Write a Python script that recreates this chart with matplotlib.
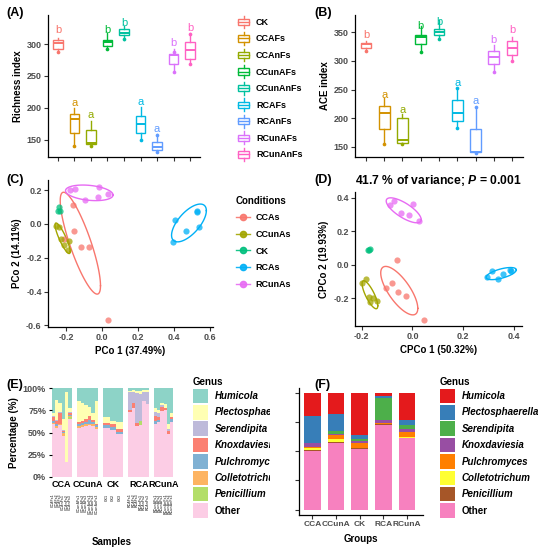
import matplotlib
matplotlib.use('Agg')
import matplotlib.pyplot as plt
import numpy as np
from matplotlib.patches import Patch, Rectangle
from matplotlib.lines import Line2D
from matplotlib.legend_handler import HandlerBase
from matplotlib.transforms import Bbox

plt.rcParams['font.family'] = ['Liberation Sans', 'DejaVu Sans']
plt.rcParams['font.weight'] = 'bold'
plt.rcParams['mathtext.fontset'] = 'custom'
plt.rcParams['mathtext.it'] = 'Liberation Sans:italic:bold'
plt.rcParams['mathtext.rm'] = 'Liberation Sans:bold'

# ---------------- data ----------------
alpha_groups = ['CK', 'CCAFs', 'CCAnFs', 'CCunAFs', 'CCunAnFs', 'RCAFs', 'RCAnFs', 'RCunAFs', 'RCunAnFs']
alpha_colors = ['#F8766D', '#D39200', '#93AA00', '#00BA38', '#00C19F', '#00B9E3', '#619CFF', '#DB72FB', '#FF61C3']

rich_lo = [290, 140, 140, 292, 307, 150, 131, 256, 269]
rich_q1 = [293, 160, 143, 297, 314, 161, 133, 269, 277]
rich_med = [302, 183, 145, 303, 318, 175, 138, 283, 291]
rich_q3 = [306, 191, 165, 307, 323, 187, 146, 285, 303]
rich_hi = [310, 199, 180, 317, 328, 201, 159, 293, 317]
rich_pts = [[287], [140], [140], [292], [308], [150], [131, 158], [256, 288], [268, 316]]
rich_letters = ['b', 'a', 'a', 'b', 'b', 'a', 'a', 'b', 'b']
rich_letter_y = [322, 207, 188, 322, 333, 209, 167, 301, 325]

ace_lo = [318, 155, 155, 316, 338, 183, 140, 281, 300]
ace_q1 = [322, 181, 157, 330, 345, 195, 141, 294, 310]
ace_med = [329, 210, 162, 342, 351, 210, 141, 307, 322]
ace_q3 = [332, 221, 201, 345, 356, 232, 182, 318, 334]
ace_hi = [335, 236, 207, 360, 371, 252, 220, 328, 342]
ace_pts = [[318], [155], [155], [316], [338], [183, 252], [140, 220], [281], [300]]
ace_letters = ['b', 'a', 'a', 'b', 'b', 'a', 'a', 'b', 'b']
ace_letter_y = [345, 241, 215, 360, 368, 261, 230, 336, 354]

cond_groups = ['CCAs', 'CCunAs', 'CK', 'RCAs', 'RCunAs']
cond_colors = ['#F8766D', '#A3A500', '#00BF7D', '#00B0F6', '#E76BF3']

pco1 = [[-0.163, -0.154, -0.117, -0.074, 0.030, -0.212],
        [-0.256, -0.237, -0.228, -0.209, -0.185, -0.191],
        [-0.237, -0.244, -0.231],
        [0.407, 0.467, 0.526, 0.526, 0.535, 0.393],
        [-0.176, -0.148, -0.093, -0.015, -0.024, 0.031]]
pco2 = [[0.111, -0.044, -0.139, -0.135, -0.568, -0.092],
        [-0.014, -0.018, -0.088, -0.124, -0.100, -0.153],
        [0.099, 0.075, 0.079],
        [0.025, -0.040, 0.071, 0.079, -0.018, -0.104],
        [0.200, 0.208, 0.144, 0.218, 0.158, 0.178]]

cpco1 = [[-0.061, -0.079, -0.104, -0.059, -0.026, 0.044],
         [-0.200, -0.183, -0.170, -0.156, -0.141, -0.167],
         [-0.176, -0.167, -0.172],
         [0.295, 0.315, 0.337, 0.358, 0.384, 0.390],
         [-0.090, -0.072, -0.044, -0.013, 0.002, 0.026]]
cpco2 = [[0.032, -0.111, -0.137, -0.160, -0.184, -0.329],
         [-0.111, -0.087, -0.194, -0.200, -0.214, -0.220],
         [0.087, 0.097, 0.091],
         [-0.075, -0.036, -0.087, -0.055, -0.028, -0.038],
         [0.360, 0.384, 0.311, 0.295, 0.364, 0.261]]

genera = ['Humicola', 'Plectosphaerella', 'Serendipita', 'Knoxdaviesia',
          'Pulchromyces', 'Colletotrichum', 'Penicillium', 'Other']
e_colors = ['#8DD3C7', '#FFFFB3', '#BEBADA', '#FB8072', '#80B1D3', '#FDB462', '#B3DE69', '#FCCDE5']
f_colors = ['#E41A1C', '#377EB8', '#4DAF4A', '#984EA3', '#FF7F00', '#FFFF33', '#A65628', '#F781BF']

e_facets = ['CCA', 'CCunA', 'CK', 'RCA', 'RCunA']
e_sizes = [6, 6, 3, 6, 6]
e_samples = ['CCAFs1', 'CCAFs2', 'CCAFs3', 'CCAnFs1', 'CCAnFs2', 'CCAnFs3',
             'CCunAFs1', 'CCunAFs2', 'CCunAFs3', 'CCunAnFs1', 'CCunAnFs2', 'CCunAnFs3',
             'CK1', 'CK2', 'CK3',
             'RCAFs1', 'RCAFs2', 'RCAFs3', 'RCAnFs1', 'RCAnFs2', 'RCAnFs3',
             'RCunAFs1', 'RCunAFs2', 'RCunAFs3', 'RCunAnFs1', 'RCunAnFs2', 'RCunAnFs3']
e_humicola = [28, 14, 17, 35, 4, 23, 15, 17, 19, 21, 28, 15, 33, 37, 38, 3, 2, 3, 3, 2, 2, 23, 25, 17, 18, 41, 28]
e_plecto = [4, 22, 10, 12, 79, 4, 23, 20, 16, 11, 8, 25, 6, 4, 8, 2, 3, 3, 4, 3, 2, 4, 3, 2, 4, 5, 5]
e_serendipita = [1, 1, 1, 1, 0, 1, 0, 0, 0, 0, 0, 0, 0, 0, 0, 20, 12, 33, 30, 10, 14, 5, 5, 2, 0, 2, 0]
e_knox = [4, 4, 12, 1, 0, 2, 3, 2, 3, 4, 2, 2, 3, 3, 3, 2, 5, 4, 0, 0, 0, 5, 3, 5, 3, 4, 2]
e_pulch = [2, 2, 1, 1, 0, 1, 2, 3, 3, 4, 3, 2, 3, 3, 3, 0, 0, 0, 0, 0, 0, 3, 2, 0, 0, 0, 3]
e_colleto = [1, 2, 1, 4, 0, 2, 2, 2, 2, 2, 2, 2, 0, 0, 0, 0, 0, 0, 0, 0, 0, 0, 0, 0, 0, 0, 0]
e_penic = [0, 0, 0, 0, 0, 2, 0, 0, 0, 0, 0, 0, 0, 0, 0, 0, 0, 0, 5, 0, 0, 0, 0, 0, 0, 0, 0]
e_other = [60, 55, 58, 46, 17, 65, 55, 56, 57, 58, 57, 54, 55, 53, 48, 73, 78, 57, 58, 85, 82, 60, 62, 74, 75, 48, 62]

f_groups = ['CCA', 'CCunA', 'CK', 'RCA', 'RCunA']
f_humicola = [19.5, 18, 36, 2.7, 23.5]
f_plecto = [23, 15, 4, 1.5, 4.5]
f_serendipita = [0.5, 2, 1, 19.5, 3]
f_knox = [3, 1.5, 2, 2.5, 3]
f_pulch = [0.5, 3, 4, 0.3, 4]
f_colleto = [2, 3, 0.5, 0, 0.5]
f_penic = [1, 0.5, 0.5, 1.5, 0.5]
f_other = [50, 57, 52, 72, 61]

# ---------------- helpers ----------------
W, H = 538, 550
fig = plt.figure(figsize=(W / 100, H / 100), dpi=100)
TICK = '#4D4D4D'


def rect(x0, y0, x1, y1):
    return [x0 / W, 1 - y1 / H, (x1 - x0) / W, (y1 - y0) / H]


def classic(ax):
    for s in ['top', 'right']:
        ax.spines[s].set_visible(False)
    for s in ['left', 'bottom']:
        ax.spines[s].set_linewidth(0.9)
    ax.tick_params(labelsize=6.5, labelcolor=TICK, length=3, width=0.8, color='#333333', pad=1.5)
    for t in ax.get_xticklabels() + ax.get_yticklabels():
        t.set_fontweight('bold')


class BoxKey(HandlerBase):
    def create_artists(self, legend, orig, xd, yd, w, h, fontsize, trans):
        c = orig.get_edgecolor()
        x0, y0 = -xd, -yd
        cx = x0 + w / 2
        b = Rectangle((x0 + w * 0.1, y0 + h * 0.25), w * 0.8, h * 0.5, fc='white', ec=c, lw=1, transform=trans)
        m = Line2D([x0 + w * 0.1, x0 + w * 0.9], [y0 + h / 2] * 2, color=c, lw=1, transform=trans)
        wl = Line2D([cx, cx], [y0, y0 + h * 0.25], color=c, lw=1, transform=trans)
        wh = Line2D([cx, cx], [y0 + h * 0.75, y0 + h], color=c, lw=1, transform=trans)
        return [b, m, wl, wh]


def boxpanel(ax, lo, q1, med, q3, hi, pts, letters, letter_y, ylabel, yticks, ylim):
    pos = np.arange(1, len(alpha_groups) + 1)
    stats = [dict(med=med[i], q1=q1[i], q3=q3[i], whislo=lo[i], whishi=hi[i], fliers=[])
             for i in range(len(alpha_groups))]
    art = ax.bxp(stats, positions=pos, widths=0.58, patch_artist=True, showcaps=False)
    for i, c in enumerate(alpha_colors):
        art['boxes'][i].set(facecolor='white', edgecolor=c, linewidth=1)
        art['medians'][i].set(color=c, linewidth=1.4)
        art['whiskers'][2 * i].set(color=c, linewidth=1)
        art['whiskers'][2 * i + 1].set(color=c, linewidth=1)
        ax.scatter([pos[i]] * len(pts[i]), pts[i], s=7, color=c, zorder=3, linewidths=0)
        ax.text(pos[i], letter_y[i], letters[i], color=c, ha='center', va='center',
                fontsize=8, fontweight='normal')
    ax.set_xlim(0.4, len(alpha_groups) + 0.6)
    ax.set_ylim(*ylim)
    ax.set_yticks(yticks)
    ax.set_xticks(pos)
    ax.set_xticklabels([])
    ax.set_ylabel(ylabel, fontsize=7, fontweight='bold', labelpad=3)
    classic(ax)


def trob(x, nu=5, maxit=25, tol=0.01):
    n, p = x.shape
    loc = x.mean(0)
    w = np.ones(n)
    for _ in range(maxit):
        w0 = w
        X = x - loc
        S = (X * (w / w.sum())[:, None]).T @ X
        Q = np.einsum('ij,jk,ik->i', X, np.linalg.inv(S), X)
        w = (nu + p) / (nu + Q)
        loc = (w[:, None] * x).sum(0) / w.sum()
        if np.all(np.abs(w - w0) < tol):
            break
    X = x - loc
    return loc, (X * w[:, None]).T @ X / n


def ellipse(ax, xs, ys, color, level=0.7):
    pts = np.column_stack([xs, ys])
    n = len(pts)
    center, shape = trob(pts)
    d = n - 1
    fq = d / 2 * ((1 - level) ** (-2 / d) - 1)
    r = np.sqrt(2 * fq)
    t = np.linspace(0, 2 * np.pi, 100)
    circ = np.column_stack([np.cos(t), np.sin(t)])
    L = np.linalg.cholesky(shape)
    e = center + r * circ @ L.T
    ax.plot(e[:, 0], e[:, 1], color=color, lw=1)


def ordination(ax, xs, ys, xlim, ylim, xticks, yticks, xlabel, ylabel):
    for i, g in enumerate(cond_groups):
        ax.scatter(xs[i], ys[i], s=20, color=cond_colors[i], alpha=0.75, linewidths=0, zorder=3)
        if g != 'CK':
            ellipse(ax, xs[i], ys[i], cond_colors[i])
    ax.set_xlim(*xlim)
    ax.set_ylim(*ylim)
    ax.set_xticks(xticks)
    ax.set_yticks(yticks)
    ax.set_xticklabels(['%.1f' % v if v != 0 else '0.0' for v in xticks])
    ax.set_yticklabels(['%.1f' % v if v != 0 else '0.0' for v in yticks])
    ax.set_xlabel(xlabel, fontsize=7, fontweight='bold', labelpad=3)
    ax.set_ylabel(ylabel, fontsize=7, fontweight='bold', labelpad=3)
    classic(ax)


# ---------------- (A) / (B) ----------------
axA = fig.add_axes(rect(48, 15, 200, 157))
boxpanel(axA, rich_lo, rich_q1, rich_med, rich_q3, rich_hi, rich_pts, rich_letters, rich_letter_y,
         'Richness index', [150, 200, 250, 300], (122.8, 345.6))
axB = fig.add_axes(rect(355, 15, 523, 157))
boxpanel(axB, ace_lo, ace_q1, ace_med, ace_q3, ace_hi, ace_pts, ace_letters, ace_letter_y,
         'ACE index', [150, 200, 250, 300, 350], (132.5, 380))

handles = [Patch(edgecolor=c, facecolor='white') for c in alpha_colors]
fig.legend(handles, alpha_groups, loc='upper left', bbox_to_anchor=(232 / W, 1 - 11 / H),
           frameon=False, fontsize=6.5, handlelength=1.55, handleheight=1.8, labelspacing=0.42,
           handletextpad=0.6, borderpad=0, handler_map={Patch: BoxKey()})

# ---------------- (C) / (D) ----------------
axC = fig.add_axes(rect(48, 180, 213, 327))
ordination(axC, pco1, pco2, (-0.30, 0.615), (-0.61, 0.26), [-0.2, 0.0, 0.2, 0.4, 0.6],
           [-0.6, -0.4, -0.2, 0.0, 0.2], 'PCo 1 (37.49%)', 'PCo 2 (14.11%)')
axD = fig.add_axes(rect(355, 192, 522, 326))
ordination(axD, cpco1, cpco2, (-0.227, 0.433), (-0.365, 0.435), [-0.2, 0.0, 0.2, 0.4],
           [-0.2, 0.0, 0.2, 0.4], 'CPCo 1 (50.32%)', 'CPCo 2 (19.93%)')
axD.set_title('41.7 % of variance; $P$ = 0.001', fontsize=8.7, fontweight='bold', pad=6)

chandles = [Line2D([0], [0], color=c, marker='o', markersize=4.5, lw=1, alpha=0.9) for c in cond_colors]
legC = fig.legend(chandles, cond_groups, loc='upper left', bbox_to_anchor=(231 / W, 1 - 191 / H),
                  frameon=False, fontsize=6.5, title='Conditions', handlelength=1.6,
                  labelspacing=0.85, handletextpad=0.6, borderpad=0)
legC.get_title().set_fontsize(7)
legC.get_title().set_fontweight('bold')
legC._legend_box.align = 'left'

# ---------------- (E) ----------------
e_stack = [e_other, e_penic, e_colleto, e_pulch, e_knox, e_serendipita, e_plecto, e_humicola]
e_stack_colors = e_colors[::-1]
facet_x = [(51.7, 71.7), (77.3, 98.3), (103.3, 122.7), (128.3, 149.3), (154, 173.3)]
start = 0
for k, name in enumerate(e_facets):
    n = e_sizes[k]
    ax = fig.add_axes(rect(facet_x[k][0], 388, facet_x[k][1], 477))
    xpos = np.arange(n)
    bottom = np.zeros(n)
    for vals, col in zip(e_stack, e_stack_colors):
        v = np.array(vals[start:start + n], dtype=float)
        ax.bar(xpos, v, bottom=bottom, width=1.0, color=col, linewidth=0)
        bottom += v
    ax.set_xlim(-0.5, n - 0.5)
    ax.set_ylim(0, 100)
    for s in ax.spines.values():
        s.set_visible(False)
    ax.set_xticks(xpos)
    ax.set_xticklabels(e_samples[start:start + n], rotation=90, fontsize=2.5, color=TICK)
    ax.tick_params(axis='x', length=0, pad=12)
    ax.text(0.5, -0.035, name, transform=ax.transAxes, ha='center', va='top', fontsize=6.5,
            fontweight='bold')
    if k == 0:
        ax.set_yticks([0, 25, 50, 75, 100])
        ax.set_yticklabels(['0%', '25%', '50%', '75%', '100%'], fontsize=6.5, color=TICK,
                           fontweight='bold')
        ax.tick_params(axis='y', length=2.5, width=0.8, pad=1.5)
        ax.set_ylabel('Percentage (%)', fontsize=7, fontweight='bold', labelpad=3)
    else:
        ax.set_yticks([])
    start += n
fig.text(112 / W, 1 - 542 / H, 'Samples', ha='center', va='center', fontsize=7, fontweight='bold')

handlesE = [Patch(facecolor=c, edgecolor='none') for c in e_colors]
legE = fig.legend(handlesE, genera, loc='upper left', bbox_to_anchor=(188 / W, 1 - 372 / H),
                  frameon=False, fontsize=7, title='Genus', handlelength=1.55, handleheight=1.92,
                  labelspacing=0.19, handletextpad=0.7, borderpad=0)
legE.get_title().set_fontsize(7)
legE.get_title().set_fontweight('bold')
legE._legend_box.align = 'left'

# ---------------- (F) ----------------
axF = fig.add_axes(rect(299, 388, 423, 515))
f_stack = [f_other, f_penic, f_colleto, f_pulch, f_knox, f_serendipita, f_plecto, f_humicola]
fx = np.arange(1, len(f_groups) + 1)
bottom = np.zeros(len(f_groups))
for vals, col in zip(f_stack, f_colors[::-1]):
    v = np.array(vals, dtype=float)
    axF.bar(fx, v, bottom=bottom, width=0.7, color=col, linewidth=0)
    bottom += v
axF.set_xlim(0.44, 5.68)
axF.set_ylim(-4.7, 104)
axF.set_xticks(fx)
axF.set_xticklabels(f_groups)
axF.set_yticks([0, 25, 50, 75, 100])
axF.set_yticklabels([])
axF.set_xlabel('Groups', fontsize=7, fontweight='bold', labelpad=4)
classic(axF)
for t in axF.get_xticklabels():
    t.set_fontsize(6)

handlesF = [Patch(facecolor=c, edgecolor='none') for c in f_colors]
legF = fig.legend(handlesF, genera, loc='upper left', bbox_to_anchor=(435 / W, 1 - 372 / H),
                  frameon=False, fontsize=7, title='Genus', handlelength=1.55, handleheight=1.92,
                  labelspacing=0.19, handletextpad=0.7, borderpad=0)
legF.get_title().set_fontsize(7)
legF.get_title().set_fontweight('bold')
legF._legend_box.align = 'left'

for leg in (legE, legF):
    for t in leg.get_texts():
        t.set_fontweight('bold')
        if t.get_text() != 'Other':
            t.set_fontstyle('italic')

# the (F) panel covers the overflow of the (E) legend, as in the composed figure
clip = Bbox.from_extents(0, 0, 270, H)
for t in legE.get_texts():
    t.set_clip_box(clip)
    t.set_clip_on(True)

# ---------------- panel tags ----------------
for tag, x, y in [('(A)', 6, 13), ('(B)', 314, 13), ('(C)', 6, 180), ('(D)', 314, 180),
                  ('(E)', 6, 385), ('(F)', 314, 385)]:
    fig.text(x / W, 1 - y / H, tag, fontsize=9, fontweight='bold', va='center', ha='left')

fig.savefig('out.png', dpi=100)
